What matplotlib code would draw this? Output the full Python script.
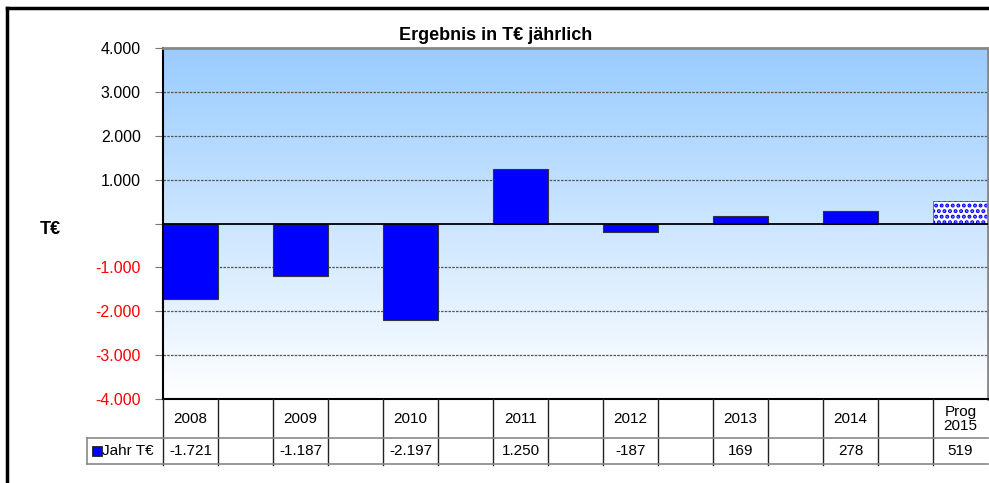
import numpy as np
import matplotlib
matplotlib.use("Agg")
import matplotlib.pyplot as plt
from matplotlib.colors import LinearSegmentedColormap
from matplotlib.lines import Line2D

plt.rcParams['font.family'] = ['Liberation Sans', 'DejaVu Sans']
plt.rcParams['hatch.linewidth'] = 2.0

# data
categories = ["2008", "", "2009", "", "2010", "", "2011", "", "2012", "", "2013", "", "2014", "", "Prog\n2015"]
values = [-1721, -1187, -2197, 1250, -187, 169, 278, 519]
yticks = [-4000, -3000, -2000, -1000, 0, 1000, 2000, 3000, 4000]
series_name = "Jahr T€"
title = "Ergebnis in T€ jährlich"

W, H = 989, 483


def px(l, t, r, b):
    return [l / W, 1 - b / H, (r - l) / W, (b - t) / H]


def fmt(v):
    if v == 0:
        return ""
    return f"{v:,.0f}".replace(",", ".")


fig = plt.figure(figsize=(W / 100, H / 100), dpi=100)
fig.patch.set_facecolor("white")

ax = fig.add_axes(px(163, 48, 988, 399))
ncol = len(categories)
ax.set_xlim(0, ncol)
ax.set_ylim(yticks[0], yticks[-1])

cmap = LinearSegmentedColormap.from_list("bg", ["#99CCFF", "#FFFFFF"])
ax.imshow(np.linspace(0, 1, 256).reshape(-1, 1), cmap=cmap, aspect="auto",
          extent=[0, ncol, yticks[0], yticks[-1]], zorder=0)

for t in yticks[1:-1]:
    if t != 0:
        ax.axhline(t, color="#555555", lw=0.9, ls=(0, (2, 1)), zorder=1)
ax.axhline(0, color="black", lw=1.3, zorder=3)

xpos = np.arange(0, ncol, 2) + 0.5
for i, (x, v) in enumerate(zip(xpos, values)):
    if i == len(values) - 1:
        ax.bar(x, v, width=1, facecolor="white", edgecolor="#0000FF",
               hatch="...", lw=0.4, zorder=2)
    else:
        ax.bar(x, v, width=1, color="#0000FF", edgecolor="#333333", lw=0.8, zorder=2)

ax.set_yticks(yticks, [fmt(t) for t in yticks])
for lab, t in zip(ax.get_yticklabels(), yticks):
    lab.set_color("red" if t < 0 else "black")
ax.tick_params(axis="y", length=6, width=0.8, color="#777777", labelsize=11.5, pad=10)
ax.set_xticks([])
for s in ["left", "bottom"]:
    ax.spines[s].set_color("black")
    ax.spines[s].set_linewidth(1.5)
for s in ["top", "right"]:
    ax.spines[s].set_color("#888888")
    ax.spines[s].set_linewidth(2)

# data table
leg_w = 76 / 55
tax = fig.add_axes(px(87, 399, 988, 465))
tax.set_xlim(-leg_w, ncol)
tax.set_ylim(66, 0)
tax.axis("off")
for k in range(ncol):
    tax.plot([k, k], [0, 66], color="#222222", lw=1, clip_on=False)
tax.plot([-leg_w, ncol], [39, 39], color="#888888", lw=1.2, clip_on=False)
tax.plot([-leg_w, ncol], [65, 65], color="#888888", lw=1.2, clip_on=False)
tax.plot([-leg_w, -leg_w], [39, 65], color="#888888", lw=1.2, clip_on=False)

for k, c in enumerate(categories):
    tax.text(k + 0.5, 20, c, ha="center", va="center", fontsize=11, linespacing=0.95)
for x, v in zip(xpos, values):
    tax.text(x, 52, fmt(v), ha="center", va="center", fontsize=11)
tax.plot([-leg_w + 10 / 55], [52], marker="s", ms=6.5, color="#0000FF",
         mec="#222222", mew=0.6, clip_on=False)
tax.text(-leg_w + 15 / 55, 52, series_name, ha="left", va="center", fontsize=11)

fig.text(496 / W, 1 - 35 / H, title, ha="center", va="center", fontsize=13, fontweight="bold")
fig.text(50 / W, 1 - 229 / H, "T€", ha="center", va="center", fontsize=13, fontweight="bold")

fig.add_artist(Line2D([7 / W, 1], [1 - 8 / H, 1 - 8 / H], color="black", lw=2.5))
fig.add_artist(Line2D([7 / W, 7 / W], [1 - 8 / H, 0], color="black", lw=2.5))

fig.savefig("out.png", dpi=100)
